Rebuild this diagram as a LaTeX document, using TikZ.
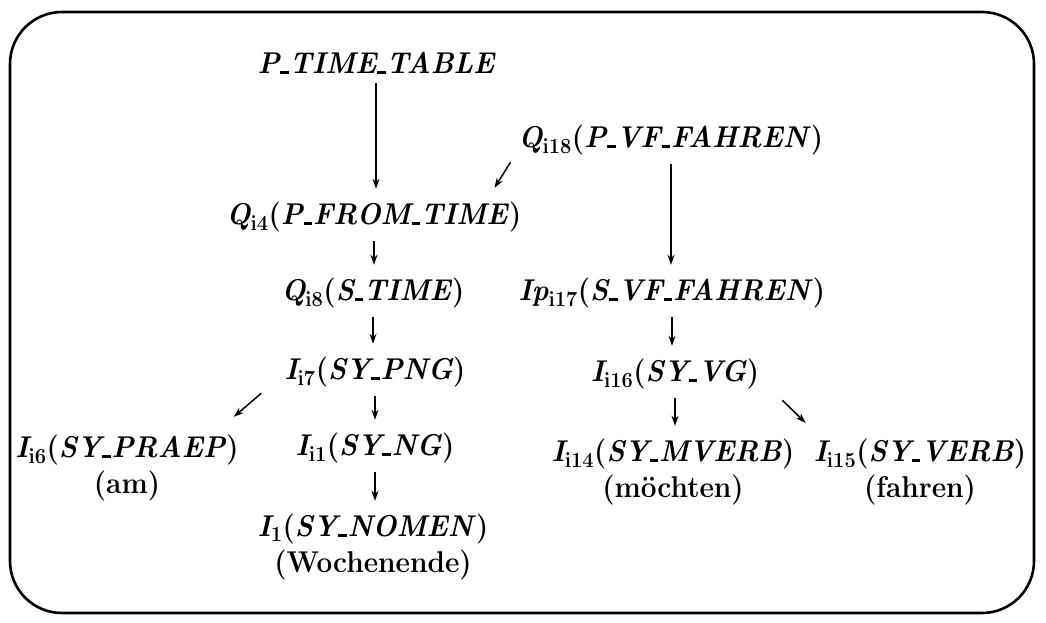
\documentclass[tikz,border=0pt]{standalone}
\usetikzlibrary{arrows.meta}
\newcommand\LP{\textup{(}}
\newcommand\RP{\textup{)}}
\newcommand\Sub[1]{$_{\mathbf{#1}}$}
\newcommand\US{\kern0.03em\rule[-0.6pt]{0.3em}{0.09em}\kern0.03em}
\newcommand\Ln[1]{\scalebox{0.97}[1.04]{#1}}
\begin{document}
\begin{tikzpicture}[x=1bp,y=-1bp,
  lbl/.style={inner sep=3bp, font=\fontsize{29}{36}\selectfont\bfseries\itshape, align=center},
  arr/.style={-{Stealth[length=10bp,width=7bp]}, line width=1.5bp, shorten <=6bp, shorten >=10bp},
  darr/.style={-{Stealth[length=10bp,width=7bp]}, line width=1.5bp}]
\useasboundingbox (0,0) rectangle (1046,623);
\draw[line width=2.6bp, rounded corners=52bp] (10,12) rectangle (1034,613);

\node[lbl] (ptt) at (376,63) {\Ln{P\US TIME\US TABLE}};
\node[lbl] (q18) at (671,140) {\Ln{Q\Sub{i18}\LP P\US VF\US FAHREN\RP}};
\node[lbl] (q4) at (374,217) {\Ln{Q\Sub{i4}\LP P\US FROM\US TIME\RP}};
\node[lbl] (q8) at (373,293) {\Ln{Q\Sub{i8}\LP S\US TIME\RP}};
\node[lbl] (ip17) at (672,293) {\Ln{Ip\Sub{i17}\LP S\US VF\US FAHREN\RP}};
\node[lbl] (i7) at (375,372) {\Ln{I\Sub{i7}\LP SY\US PNG\RP}};
\node[lbl] (i16) at (675,374) {\Ln{I\Sub{i16}\LP SY\US VG\RP}};
\node[lbl] (i6) at (127,468) {\Ln{I\Sub{i6}\LP SY\US PRAEP\RP}\\ \upshape\Ln{(am)}};
\node[lbl] (i1) at (375,448) {\Ln{I\Sub{i1}\LP SY\US NG\RP}};
\node[lbl] (i0) at (373,547) {\Ln{I\Sub{1}\LP SY\US NOMEN\RP}\\ \upshape\Ln{(Wochenende)}};
\node[lbl] (i14) at (673,472) {\Ln{I\Sub{i14}\LP SY\US MVERB\RP}\\ \upshape\Ln{(möchten)}};
\node[lbl] (i15) at (920,472) {\Ln{I\Sub{i15}\LP SY\US VERB\RP}\\ \upshape\Ln{(fahren)}};

\draw[arr] (ptt.south) -- (ptt.south |- q4.north);
\draw[arr] (q4.south) -- (q4.south |- q8.north);
\draw[arr] (q8.south) -- (q8.south |- i7.north);
\draw[arr] (i7.south) -- (i7.south |- i1.north);
\draw[arr] (i1.south) -- (i1.south |- i0.north);
\draw[arr] (q18.south) -- (q18.south |- ip17.north);
\draw[arr] (ip17.south) -- (ip17.south |- i16.north);
\draw[arr] (i16.south) -- (i16.south |- i14.north);
\draw[darr] ([xshift=-5bp,yshift=-4bp]q18.south west) -- ([xshift=-30bp,yshift=11bp]q4.north east);
\draw[darr] ([xshift=-20bp,yshift=-3bp]i7.south west) -- ([xshift=-8bp,yshift=15bp]i6.north east);
\draw[darr] ([xshift=20bp,yshift=-8bp]i16.south east) -- ([xshift=-5bp,yshift=13bp]i15.north west);
\end{tikzpicture}
\end{document}
